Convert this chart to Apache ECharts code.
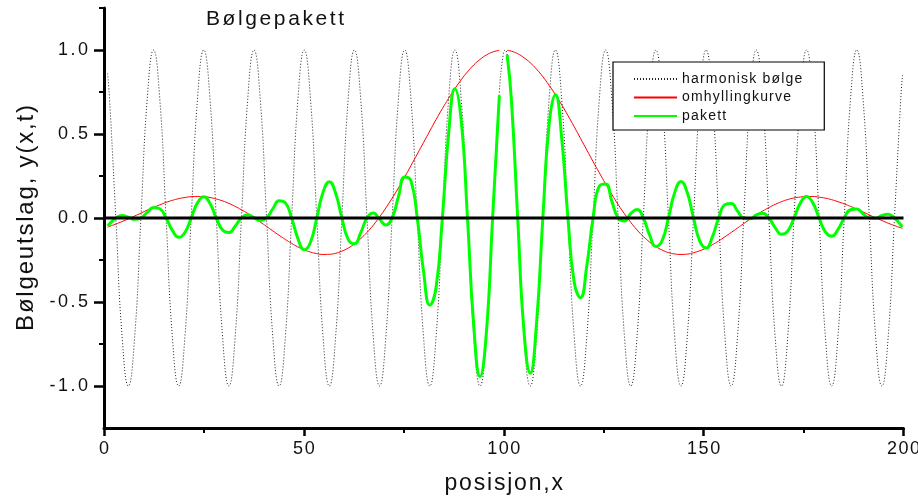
<!DOCTYPE html>
<html>
<head>
<meta charset="utf-8">
<title>Bølgepakett</title>
<script src="https://cdn.jsdelivr.net/npm/echarts@6/dist/echarts.min.js"></script>
<style>
html, body { margin: 0; padding: 0; background: #fff; }
#chart { width: 918px; height: 497px; }
</style>
</head>
<body>
<div id="chart"></div>
<script>
// posisjon x (samples)
var xs = [0.9,
  1.39, 2.96, 4.53, 6.10, 7.67, 9.24, 10.81, 12.39,
  13.96, 15.53, 17.10, 18.67, 20.24, 21.81, 23.38, 24.95,
  26.52, 28.09, 29.66, 31.24, 32.81, 34.38, 35.95, 37.52,
  39.09, 40.66, 42.23, 43.80, 45.37, 46.94, 48.51, 50.09,
  51.66, 53.23, 54.80, 56.37, 57.94, 59.51, 61.08, 62.65,
  64.22, 65.79, 67.36, 68.93, 70.51, 72.08, 73.65, 75.22,
  76.79, 78.36, 79.93, 81.50, 83.07, 84.64, 86.21, 87.78,
  89.35, 90.93, 92.50, 94.07, 95.64, 97.21,
  98.90, 99.85, 100.35, 100.85,
  101.92, 103.49, 105.06, 106.63, 108.20, 109.78, 111.35, 112.92,
  114.49, 116.06, 117.63, 119.20, 120.77, 122.34, 123.91, 125.48,
  127.05, 128.62, 130.20, 131.77, 133.34, 134.91, 136.48, 138.05,
  139.62, 141.19, 142.76, 144.33, 145.90, 147.47, 149.05, 150.62,
  152.19, 153.76, 155.33, 156.90, 158.47, 160.04, 161.61, 163.18,
  164.75, 166.32, 167.89, 169.47, 171.04, 172.61, 174.18, 175.75,
  177.32, 178.89, 180.46, 182.03, 183.60, 185.17, 186.74, 188.32,
  189.89, 191.46, 193.03, 194.60, 196.17, 197.74, 199.31,
  199.75];

// harmonisk bølge
var harmonic = [0.86,
  0.707, 0, -0.707, -1, -0.707, 0, 0.707, 1,
  0.707, 0, -0.707, -1, -0.707, 0, 0.707, 1,
  0.707, 0, -0.707, -1, -0.707, 0, 0.707, 1,
  0.707, 0, -0.707, -1, -0.707, 0, 0.707, 1,
  0.707, 0, -0.707, -1, -0.707, 0, 0.707, 1,
  0.707, 0, -0.707, -1, -0.707, 0, 0.707, 1,
  0.707, 0, -0.707, -1, -0.707, 0, 0.707, 1,
  0.707, 0, -0.707, -1, -0.707, 0,
  0.75, 0.97, 1, 0.97,
  0.707, 0, -0.707, -1, -0.707, 0, 0.707, 1,
  0.707, 0, -0.707, -1, -0.707, 0, 0.707, 1,
  0.707, 0, -0.707, -1, -0.707, 0, 0.707, 1,
  0.707, 0, -0.707, -1, -0.707, 0, 0.707, 1,
  0.707, 0, -0.707, -1, -0.707, 0, 0.707, 1,
  0.707, 0, -0.707, -1, -0.707, 0, 0.707, 1,
  0.707, 0, -0.707, -1, -0.707, 0, 0.707, 1,
  0.707, 0, -0.707, -1, -0.707, 0, 0.707,
  0.85];

// omhyllingkurve (gap at the top, x ~ 100)
var envelope = [-0.054,
  -0.050, -0.036, -0.021, -0.005, 0.012, 0.029, 0.047, 0.063,
  0.078, 0.093, 0.105, 0.115, 0.122, 0.127, 0.128, 0.127,
  0.122, 0.113, 0.102, 0.087, 0.069, 0.049, 0.027, 0.002,
  -0.024, -0.050, -0.077, -0.103, -0.128, -0.151, -0.172, -0.189,
  -0.203, -0.212, -0.217, -0.216, -0.210, -0.197, -0.179, -0.154,
  -0.123, -0.086, -0.043, 0.006, 0.060, 0.118, 0.179, 0.244,
  0.312, 0.380, 0.449, 0.518, 0.586, 0.651, 0.712, 0.770,
  0.823, 0.870, 0.911, 0.944, 0.970, 0.988,
  0.998, null, null, 0.998,
  0.993, 0.978, 0.954, 0.924, 0.886, 0.841, 0.790, 0.734,
  0.674, 0.610, 0.543, 0.474, 0.405, 0.336, 0.269, 0.203,
  0.140, 0.080, 0.025, -0.026, -0.071, -0.110, -0.143, -0.170,
  -0.191, -0.206, -0.214, -0.217, -0.215, -0.207, -0.195, -0.179,
  -0.159, -0.137, -0.112, -0.086, -0.060, -0.033, -0.007, 0.018,
  0.041, 0.062, 0.081, 0.097, 0.110, 0.119, 0.125, 0.128,
  0.128, 0.124, 0.118, 0.109, 0.097, 0.084, 0.069, 0.053,
  0.036, 0.018, 0.001, -0.015, -0.031, -0.045, -0.058,
  -0.061];

// pakett
var packet = [-0.046,
  -0.035, 0, 0.015, 0.005, -0.008, 0, 0.033, 0.063,
  0.055, 0, -0.074, -0.115, -0.086, 0, 0.090, 0.127,
  0.086, 0, -0.072, -0.087, -0.049, 0, 0.019, 0.002,
  -0.017, 0, 0.054, 0.103, 0.090, 0, -0.122, -0.189,
  -0.144, 0, 0.153, 0.216, 0.148, 0, -0.127, -0.154,
  -0.087, 0, 0.030, -0.006, -0.042, 0, 0.127, 0.244,
  0.221, 0, -0.317, -0.518, -0.414, 0, 0.503, 0.770,
  0.582, 0, -0.644, -0.944, -0.686, 0,
  0.73, null, null, 0.97,
  0.702, 0, -0.674, -0.924, -0.626, 0, 0.559, 0.734,
  0.477, 0, -0.384, -0.474, -0.286, 0, 0.190, 0.203,
  0.099, 0, -0.018, 0.026, 0.050, 0, -0.101, -0.170,
  -0.135, 0, 0.151, 0.217, 0.152, 0, -0.138, -0.179,
  -0.112, 0, 0.079, 0.086, 0.042, 0, -0.005, 0.018,
  0.029, 0, -0.057, -0.097, -0.078, 0, 0.088, 0.128,
  0.090, 0, -0.083, -0.109, -0.069, 0, 0.049, 0.053,
  0.025, 0, -0.001, 0.015, 0.022, 0, -0.041,
  -0.052];

var zeroLine = [[0, 0], [200, 0]];

var yMajor = [-1, -0.5, 0, 0.5, 1];
var yMinor = [-0.75, -0.25, 0.25, 0.75, 1.25];

var names = ['harmonisk bølge', 'omhyllingkurve', 'pakett'];

var FONT = "'Liberation Sans', Arial, sans-serif";
var INK = '#111';

// Origin spreads its letters out, so every character is its own rich token
function spaced(text, key) {
  var chars = Array.from(String(text));
  return chars.map(function (c, i) {
    return '{' + (i < chars.length - 1 ? key : key + 'L') + '|' + c + '}';
  }).join('');
}
function richPair(key, size, gap) {
  var r = {};
  r[key] = { fontFamily: FONT, fontSize: size, color: INK, padding: [0, gap, 0, 0] };
  r[key + 'L'] = { fontFamily: FONT, fontSize: size, color: INK };
  return r;
}

function pairs(values) {
  return xs.map(function (x, i) { return [x, values[i]]; });
}

var myChart = echarts.init(document.getElementById('chart'), null, { renderer: 'canvas' });

var option = {
  animation: false,
  backgroundColor: '#fff',
  title: {
    text: spaced('Bølgepakett', 't'),
    left: 201,
    top: 4,
    textStyle: { fontFamily: FONT, fontSize: 21, fontWeight: 'normal', rich: richPair('t', 21, 2.6) }
  },
  grid: { left: 104, right: 14.5, top: 8, bottom: 69, containLabel: false, outerBoundsMode: 'none' },
  legend: {
    data: names,
    orient: 'vertical',
    left: 613,
    top: 62,
    padding: [10, 22, 7, 20],
    itemWidth: 43,
    itemHeight: 14,
    itemGap: 4.5,
    selectedMode: false,
    backgroundColor: '#fff',
    borderColor: '#000',
    borderWidth: 1.2,
    borderRadius: 0,
    // only the line sample, no marker
    itemStyle: { opacity: 0 },
    formatter: function (name) { return spaced(name, 'lg'); },
    textStyle: { fontFamily: FONT, fontSize: 14, color: INK, rich: richPair('lg', 14, 1.2) }
  },
  xAxis: {
    type: 'value',
    min: 0,
    max: 200,
    interval: 50,
    name: spaced('posisjon,x', 'xn'),
    nameLocation: 'middle',
    nameGap: 44,
    nameTextStyle: { fontFamily: FONT, fontSize: 23, color: INK, rich: richPair('xn', 23, 1.8) },
    axisLine: { show: true, onZero: false, lineStyle: { color: '#000', width: 3 } },
    axisTick: { show: true, inside: false, length: 8, lineStyle: { color: '#000', width: 2.5 } },
    minorTick: { show: true, splitNumber: 2, length: 5, lineStyle: { color: '#000', width: 2 } },
    axisLabel: {
      margin: 12,
      formatter: function (v) { return spaced(v, 'xl'); },
      rich: richPair('xl', 18, 1.5)
    },
    splitLine: { show: false },
    minorSplitLine: { show: false }
  },
  yAxis: [{
    type: 'value',
    min: -1.25,
    max: 1.25,
    position: 'left',
    name: spaced('Bølgeutslag, y(x,t)', 'yn'),
    nameLocation: 'middle',
    nameGap: 66,
    nameTextStyle: { fontFamily: FONT, fontSize: 24, color: INK, rich: richPair('yn', 24, 1.8) },
    axisLine: { show: true, onZero: false, lineStyle: { color: '#000', width: 3 } },
    axisTick: { show: true, inside: false, length: 10, customValues: yMajor, lineStyle: { color: '#000', width: 2.5 } },
    axisLabel: {
      margin: 16,
      customValues: yMajor,
      formatter: function (v) { return spaced(v.toFixed(1), 'yl'); },
      rich: richPair('yl', 18, 2.5)
    },
    splitLine: { show: false }
  }, {
    type: 'value',
    min: -1.25,
    max: 1.25,
    position: 'left',
    axisLine: { show: false },
    axisTick: { show: true, inside: false, length: 5, customValues: yMinor, lineStyle: { color: '#000', width: 2 } },
    axisLabel: { show: false },
    splitLine: { show: false }
  }],
  series: [{
    name: names[0],
    type: 'line',
    data: pairs(harmonic),
    smooth: true,
    symbol: 'none',
    lineStyle: { color: '#222', width: 1, type: [1, 2] },
    itemStyle: { color: '#222' }
  }, {
    name: names[1],
    type: 'line',
    data: pairs(envelope),
    smooth: true,
    connectNulls: false,
    symbol: 'none',
    lineStyle: { color: '#ff0000', width: 1 },
    itemStyle: { color: '#ff0000' }
  }, {
    name: names[2],
    type: 'line',
    data: pairs(packet),
    smooth: true,
    connectNulls: false,
    symbol: 'none',
    lineStyle: { color: '#00ff00', width: 3 },
    itemStyle: { color: '#00ff00' }
  }, {
    name: 'null',
    type: 'line',
    data: zeroLine,
    symbol: 'none',
    silent: true,
    lineStyle: { color: '#000', width: 3 }
  }]
};

myChart.setOption(option);
window.onresize = myChart.resize;
</script>
</body>
</html>
